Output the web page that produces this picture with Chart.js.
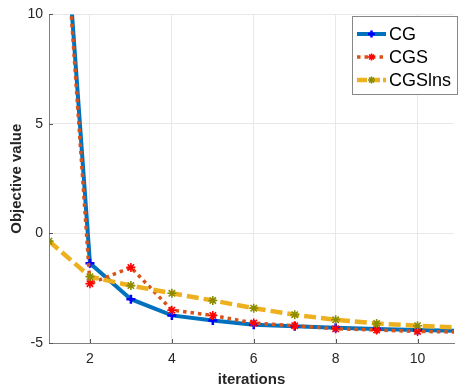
<!DOCTYPE html>
<html>
<head>
<meta charset="utf-8">
<script src="https://cdn.jsdelivr.net/npm/chart.js@4"></script>
<style>
html,body{margin:0;padding:0;background:#fff;overflow:hidden;}
#wrap{width:461px;height:389px;}
</style>
</head>
<body>
<div id="wrap"><canvas id="c" width="461" height="389"></canvas></div>
<script>
const iterations = [1, 2, 3, 4, 5, 6, 7, 8, 9, 10, 11];
const cgValues = [24.6, -1.36, -3.0, -3.74, -3.97, -4.17, -4.24, -4.30, -4.36, -4.41, -4.45];
const cgsValues = [24.6, -2.29, -1.55, -3.50, -3.74, -4.09, -4.21, -4.35, -4.41, -4.47, -4.50];
const cgslnsValues = [-0.35, -1.97, -2.38, -2.73, -3.06, -3.41, -3.71, -3.94, -4.11, -4.21, -4.30];
const seriesNames = ['CG', 'CGS', 'CGSlns'];
const xTicks = [2, 4, 6, 8, 10];
const yTicks = [-5, 0, 5, 10];

const FONT = '"Liberation Sans", Arial, Helvetica, sans-serif';
const pts = (vals) => iterations.map((x, i) => ({x: x, y: vals[i]}));

const styles = [
  {color: '#0072BD', width: 4, dash: [], marker: 'cross', mcolor: '#0000FF', mwidth: 2.5},
  {color: '#D95319', width: 3.5, dash: [3.5, 4], marker: 'star', mcolor: '#FF0000', mwidth: 1.6},
  {color: '#EDB120', width: 4.5, dash: [12, 5], marker: 'star', mcolor: '#8C8C00', mwidth: 1.6}
];
const seriesData = [cgValues, cgsValues, cgslnsValues];

const datasets = seriesData.map((vals, i) => ({
  label: seriesNames[i],
  data: pts(vals),
  borderColor: styles[i].color,
  borderWidth: styles[i].width,
  borderDash: styles[i].dash,
  pointStyle: styles[i].marker,
  pointRadius: 4.5,
  pointBorderColor: styles[i].mcolor,
  pointBackgroundColor: styles[i].mcolor,
  pointBorderWidth: styles[i].mwidth,
  tension: 0,
  fill: false,
  order: 3 - i
}));

const legendPlugin = {
  id: 'matlabLegend',
  afterDraw(chart) {
    const ctx = chart.ctx;
    const bx = 352.5, by = 16.5, bw = 105, bh = 78;
    ctx.save();
    ctx.fillStyle = '#fff';
    ctx.fillRect(bx, by, bw, bh);
    ctx.strokeStyle = '#888';
    ctx.lineWidth = 1;
    ctx.setLineDash([]);
    ctx.strokeRect(bx, by, bw, bh);
    const rowY = [34, 57, 80];
    seriesNames.forEach((name, i) => {
      const s = styles[i];
      const y = rowY[i];
      ctx.strokeStyle = s.color;
      ctx.lineWidth = s.width;
      ctx.setLineDash(i === 2 ? [10, 3] : s.dash);
      ctx.beginPath();
      ctx.moveTo(357, y);
      ctx.lineTo(386, y);
      ctx.stroke();
      ctx.setLineDash([]);
      ctx.strokeStyle = s.mcolor;
      ctx.lineWidth = s.mwidth;
      const cx = 371.5, r = 3.5;
      ctx.beginPath();
      ctx.moveTo(cx - r, y); ctx.lineTo(cx + r, y);
      ctx.moveTo(cx, y - r); ctx.lineTo(cx, y + r);
      if (s.marker === 'star') {
        const d = r * 0.707;
        ctx.moveTo(cx - d, y - d); ctx.lineTo(cx + d, y + d);
        ctx.moveTo(cx - d, y + d); ctx.lineTo(cx + d, y - d);
      }
      ctx.stroke();
      ctx.fillStyle = '#000';
      ctx.font = '18px ' + FONT;
      ctx.textBaseline = 'middle';
      ctx.textAlign = 'left';
      ctx.fillText(name, 389, y + 1);
    });
    ctx.restore();
  }
};

const tickPlugin = {
  id: 'inTicks',
  afterDatasetsDraw(chart) {
    const ctx = chart.ctx;
    const a = chart.chartArea;
    const xs = chart.scales.x, ys = chart.scales.y;
    ctx.save();
    ctx.strokeStyle = '#555';
    ctx.lineWidth = 1;
    xTicks.forEach(v => {
      const px = Math.round(xs.getPixelForValue(v)) + 0.5;
      ctx.beginPath(); ctx.moveTo(px, a.bottom); ctx.lineTo(px, a.bottom - 4); ctx.stroke();
    });
    yTicks.forEach(v => {
      const py = Math.round(ys.getPixelForValue(v)) + 0.5;
      ctx.beginPath(); ctx.moveTo(a.left, py); ctx.lineTo(a.left + 4, py); ctx.stroke();
    });
    ctx.restore();
  }
};

new Chart(document.getElementById('c'), {
  type: 'line',
  data: {datasets: datasets},
  options: {
    responsive: false,
    animation: false,
    layout: {padding: {top: 13, right: 0, left: 0, bottom: 0}},
    plugins: {legend: {display: false}, tooltip: {enabled: false}},
    scales: {
      x: {
        type: 'linear',
        min: 1,
        max: 10.89,
        afterBuildTicks: (s) => { s.ticks = xTicks.map(v => ({value: v})); },
        afterFit: (s) => { s.height = 46; },
        grid: {color: '#e8e8e8', drawTicks: false, lineWidth: 1},
        border: {display: true, color: '#808080', width: 1},
        ticks: {color: '#262626', font: {size: 14, family: FONT}, padding: 8, maxRotation: 0},
        title: {display: true, text: 'iterations', color: '#262626', font: {size: 15, weight: 'bold', family: FONT}, padding: {top: 0, bottom: 0}}
      },
      y: {
        type: 'linear',
        min: -5,
        max: 10,
        afterBuildTicks: (s) => { s.ticks = yTicks.map(v => ({value: v})); },
        afterFit: (s) => { s.width = 49; },
        grid: {color: '#e8e8e8', drawTicks: false, lineWidth: 1},
        border: {display: true, color: '#808080', width: 1},
        ticks: {color: '#262626', font: {size: 14, family: FONT}, padding: 6},
        title: {display: true, text: 'Objective value', color: '#262626', font: {size: 15, weight: 'bold', family: FONT}, padding: {top: 8, bottom: 2}}
      }
    }
  },
  plugins: [tickPlugin, legendPlugin]
});
</script>
</body>
</html>
